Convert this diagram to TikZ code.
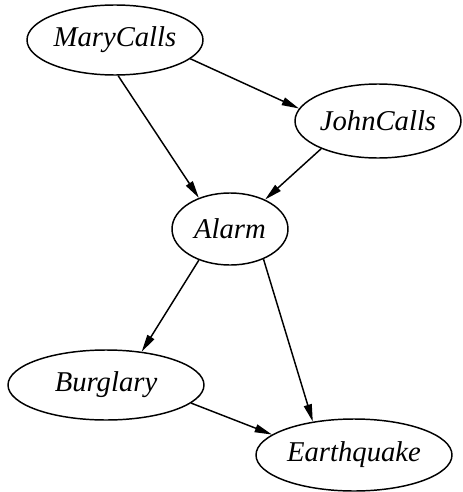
\documentclass[tikz,border=0pt]{standalone}
\usepackage{fontspec}
\setmainfont{Liberation Serif}
\usetikzlibrary{shapes.geometric,arrows.meta}

\tikzset{every picture/.style={line width=1.1pt}}
\tikzset{
  varnode/.style={draw,ellipse,inner sep=0pt,font=\fontsize{21.5}{26}\selectfont\itshape},
  causal/.style={-{Triangle[length=13pt,width=6pt]}}
}

\begin{document}
\begin{tikzpicture}[x=0.75pt,y=0.75pt,yscale=-1,xscale=1]
\useasboundingbox (0,0) rectangle (462,492);

%Shape: Ellipse
\draw (115,40) node [varnode,minimum width=132pt,minimum height=52.5pt] (mary) {MaryCalls};
%Shape: Ellipse
\draw (378,121) node [varnode,minimum width=124.5pt,minimum height=55.5pt] (john) {JohnCalls};
%Shape: Ellipse
\draw (230,229) node [varnode,minimum width=87pt,minimum height=54pt] (alarm) {Alarm};
%Shape: Ellipse
\draw (106,385) node [varnode,minimum width=147pt,minimum height=52.5pt] (burglary) {Burglary};
%Shape: Ellipse
\draw (354,455) node [varnode,minimum width=147pt,minimum height=54pt] (quake) {Earthquake};

%Straight Lines
\draw [causal] (mary.-14) -- (john.171);
\draw [causal] (mary.-85) -- (alarm.135);
\draw [causal] (john.206) -- (alarm.40);
\draw [causal] (alarm.225) -- (burglary.43);
\draw [causal] (alarm.-42) -- (quake.141);
\draw [causal] (burglary.-12) -- (quake.166);

\end{tikzpicture}
\end{document}
